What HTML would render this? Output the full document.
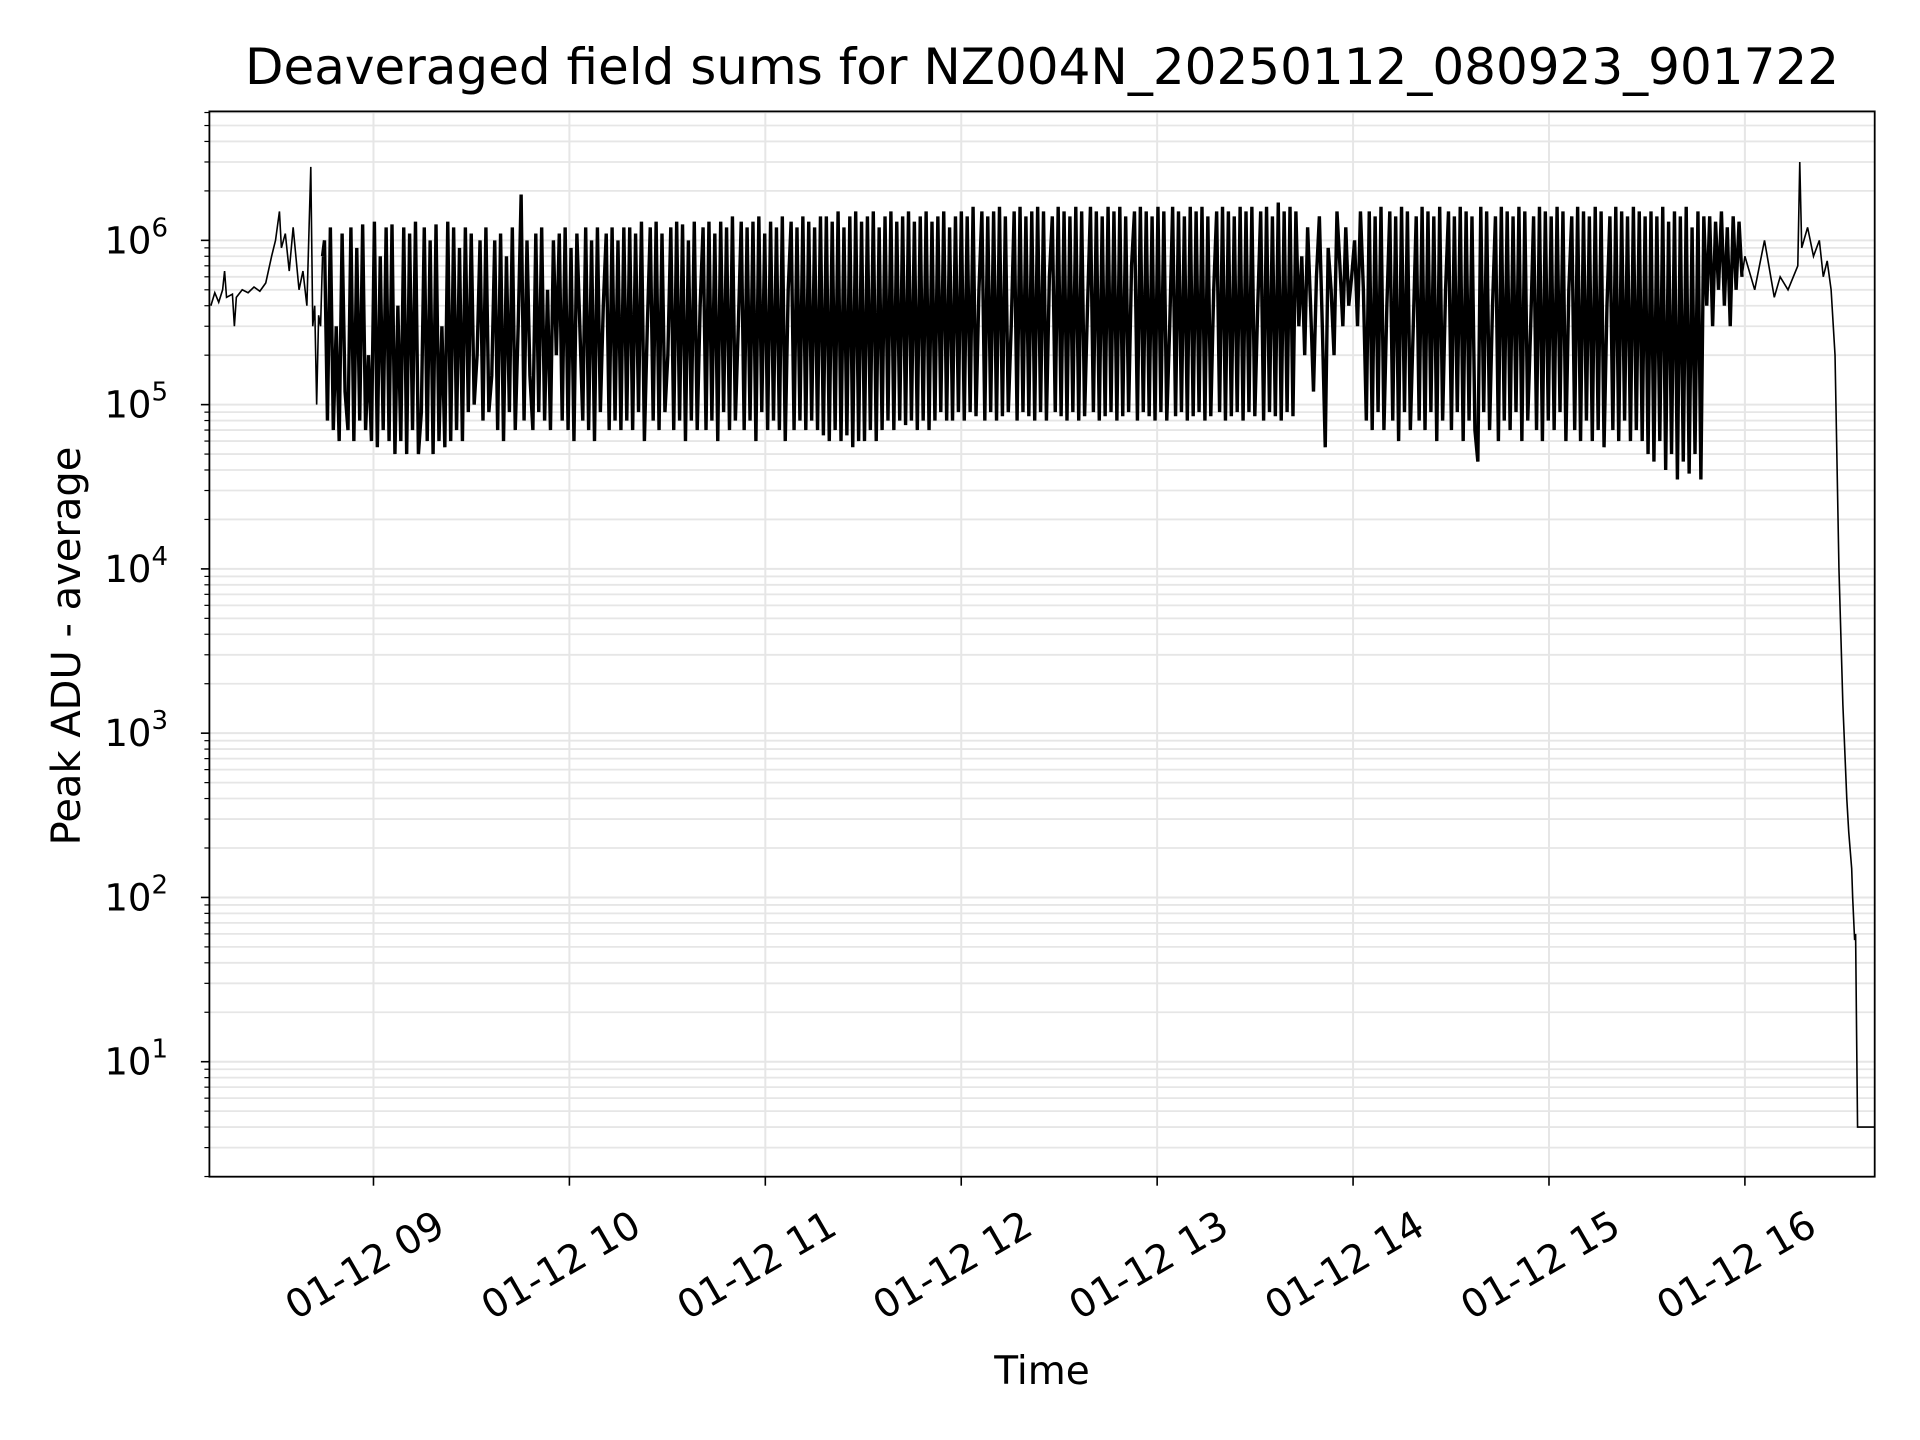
<!DOCTYPE html>
<html><head><meta charset="utf-8"><style>
html,body{margin:0;padding:0;background:#fff;}
svg{display:block;font-family:"DejaVu Sans","Liberation Sans",sans-serif;}
</style></head><body>
<svg id="chart" width="1920" height="1440" viewBox="0 0 1920 1440" xmlns="http://www.w3.org/2000/svg">
<rect width="1920" height="1440" fill="#fff"/>
<text x="1042" y="84" font-size="50" text-anchor="middle">Deaveraged field sums for NZ004N_20250112_080923_901722</text>
<text transform="translate(80,646) rotate(-90)" font-size="40" text-anchor="middle">Peak ADU - average</text>
<text x="1042" y="1384" font-size="39" text-anchor="middle">Time</text>
<g id="grid"></g><g id="series"></g><g id="axes"></g>
</svg>
<script>
const startTimes=[8.17,8.19,8.21,8.23,8.24,8.25,8.28,8.29,8.30,8.33,8.36,8.39,8.42,8.45,8.48,8.50,8.52,8.53,8.55,8.57,8.59,8.62,8.64,8.66,8.68,8.69,8.70,8.71,8.72,8.73,8.74];
const startValues=[4.0e5,4.8e5,4.2e5,5.0e5,6.5e5,4.5e5,4.7e5,3e5,4.5e5,5e5,4.8e5,5.2e5,4.9e5,5.5e5,8e5,1e6,1.5e6,9e5,1.1e6,6.5e5,1.2e6,5e5,6.5e5,4e5,2.8e6,3e5,4e5,1e5,3.5e5,3e5,8e5];
const denseStart=8.75, denseEnd=16.0;
const densePeakE5=[10,0.8,12,0.7,3,0.6,11,1.2,0.7,12,0.6,9,0.8,12.5,0.7,2,0.6,13,0.55,8,0.7,12,0.6,12.5,0.5,4,0.6,12,0.5,11,0.7,13,0.5,0.9,12,0.6,10,0.5,12.5,0.6,3,0.55,13,0.6,12,0.7,9,0.6,12,0.9,
11,1,2,10,0.8,12,0.9,1.5,10,0.7,11,0.6,8,0.9,12,0.7,3,19,0.8,10,1.5,0.7,11,0.9,12,0.8,5,0.7,10,2,11,0.8,12,0.7,9,0.6,11,3,0.8,12,0.7,10,0.6,12,0.9,4,11,0.7,12,0.8,10,0.7,12,
0.8,12,0.7,11,0.9,13,0.6,3,12,0.8,13,0.7,11,0.9,2,12,0.7,13,0.8,12.5,0.6,10,0.8,13,0.7,4,12,0.7,13,0.8,11,0.6,13,0.9,12,0.7,14,0.8,3,13,0.7,12,0.8,13,0.6,14,0.9,11,0.7,13,0.8,12,0.7,14,0.6,5,13,0.7,12,0.8,14,0.7,13,0.8,12,0.7,14,
0.65,14,0.6,13,0.7,15,0.6,12,0.65,14,0.55,15,0.6,13,0.6,14,0.7,15,0.6,12,0.7,14,0.8,15,0.7,13,0.8,14,0.75,15,0.8,13,0.7,14,0.8,15,0.7,13,0.8,14,0.9,15,0.8,12,0.8,14,0.9,
15,0.8,14,0.9,16,0.85,5,15,0.8,14,0.9,15,0.8,16,0.85,14,0.9,3,15,0.8,16,0.9,14,0.85,15,0.8,16,0.9,15,0.8,6,14,0.9,16,0.85,15,0.8,14,0.9,16,0.8,15,0.85,4,16,0.9,15,0.8,14,0.85,16,0.9,15,0.8,16,0.85,14,0.9,7,15,0.8,16,0.9,15,0.85,14,0.8,16,0.9,15,0.8,3,16,0.85,15,0.9,14,0.8,16,0.85,15,0.9,16,0.8,14,0.85,5,15,0.9,16,0.8,15,0.85,14,0.9,16,0.8,15,0.9,16,0.85,4,15,0.8,16,0.9,14,0.85,17,0.8,15,0.9,16,0.85,15,
3,8,2,12,4,1.2,6,14,3,0.55,9,5,2,15,7,3,12,4,6,10,3,15,5,
0.8,15,0.7,14,0.9,16,0.7,4,15,0.8,14,0.6,16,0.9,15,0.7,3,14,0.8,16,0.7,15,0.9,14,0.6,16,0.8,5,15,0.7,14,0.9,16,0.6,15,0.8,14,0.7,0.45,16,0.9,15,0.7,4,14,0.6,16,0.8,15,0.7,14,0.9,16,0.6,15,0.8,3,14,0.7,16,0.6,15,0.8,14,0.7,16,0.9,15,0.6,5,14,0.7,16,0.6,15,0.8,14,0.6,16,0.7,15,0.55,4,14,0.7,16,0.6,15,0.8,14,0.6,16,0.7,15,0.6,14,
0.5,15,0.45,14,0.6,16,0.4,13,0.5,15,0.35,14,0.45,16,0.38,12,0.5,15,0.35,14,
4,14,3,13,5,15,4,12,3,14,5,13,6];
const endTimes=[16.0,16.05,16.1,16.15,16.18,16.22,16.27,16.28,16.29,16.32,16.35,16.38,16.40,16.42,16.44,16.46,16.48,16.50,16.52,16.53,16.545,16.55,16.56,16.565,16.57,16.575,16.66];
const endValues=[8e5,5e5,1e6,4.5e5,6e5,5e5,7e5,3e6,9e5,1.2e6,8e5,1e6,6e5,7.5e5,5e5,2e5,1e4,1.5e3,4e2,2.5e2,1.5e2,1e2,5.5e1,6e1,1.5e1,4,4];
const xTickHours=[9,10,11,12,13,14,15,16];
const xTickLabels=["01-12 09","01-12 10","01-12 11","01-12 12","01-12 13","01-12 14","01-12 15","01-12 16"];
const yTickExps=[1,2,3,4,5,6];

const L=209.4,R=1874.7,T=111.4,B=1176.7;
const xMin=8.1625,xMax=16.6625,yMinLog=0.3,yMaxLog=6.785;
const X=h=>L+(h-xMin)/(xMax-xMin)*(R-L);
const Y=v=>B-(Math.log10(v)-yMinLog)/(yMaxLog-yMinLog)*(B-T);
const NS="http://www.w3.org/2000/svg";
function mk(tag,attrs,parent){const e=document.createElementNS(NS,tag);for(const k in attrs)e.setAttribute(k,attrs[k]);parent.appendChild(e);return e;}
const grid=document.getElementById('grid'),axes=document.getElementById('axes'),series=document.getElementById('series');

for(let d=0;d<=6;d++){for(let m=1;m<=9;m++){const v=m*Math.pow(10,d);const lv=Math.log10(v);if(lv<yMinLog||lv>yMaxLog)continue;const y=Y(v);
 const g=mk('line',{x1:L,x2:R,y1:y,y2:y,stroke:'#e6e6e6','stroke-width':m===1?2:1.8},grid);
 
 
 const t=mk('line',{x1:L,x2:L-(m===1?8.5:5),y1:y,y2:y,stroke:'#000','stroke-width':m===1?1.6:1.2},axes);
 
 
}}
yTickExps.forEach(e=>{const y=Y(Math.pow(10,e));
 const tx=mk('text',{x:168,y:y+13,'font-size':37,'text-anchor':'end'},axes);
 
 
 tx.textContent='10';
 const sp=mk('tspan',{dy:-17,'font-size':26},tx);sp.textContent=String(e);
});
xTickHours.forEach((h,i)=>{const x=X(h);
 const g=mk('line',{x1:x,x2:x,y1:T,y2:B,stroke:'#e6e6e6','stroke-width':2},grid);
 
 
 const t=mk('line',{x1:x,x2:x,y1:B,y2:B+9,stroke:'#000','stroke-width':1.6},axes);
 
 
 const tx=mk('text',{transform:`translate(${x-2},${B+100}) rotate(-30)`,'font-size':39,'text-anchor':'middle'},axes);
 
 
 tx.textContent=xTickLabels[i];
});
const fr=mk('rect',{x:L,y:T,width:R-L,height:B-T,fill:'none',stroke:'#000','stroke-width':1.8},axes);



const toD=arr=>arr.map((p,i)=>(i?'L':'M')+X(p[0]).toFixed(2)+','+Y(p[1]).toFixed(2)).join(' ');
const sPts=startTimes.map((t,i)=>[t,startValues[i]]);
const n=densePeakE5.length,dt=(denseEnd-denseStart)/n;
const dPts=[sPts[sPts.length-1]].concat(densePeakE5.map((v,i)=>[denseStart+i*dt,v*1e5]));
const ePts=[dPts[dPts.length-1]].concat(endTimes.map((t,i)=>[t,endValues[i]]));
const p1=mk('path',{d:toD(sPts),fill:'none',stroke:'#000','stroke-width':1.6},series);


const p2=mk('path',{d:toD(dPts),fill:'none',stroke:'#000','stroke-width':3.4,'stroke-linejoin':'miter','stroke-miterlimit':2},series);


const p3=mk('path',{d:toD(ePts),fill:'none',stroke:'#000','stroke-width':1.6},series);


</script>
</body></html>
